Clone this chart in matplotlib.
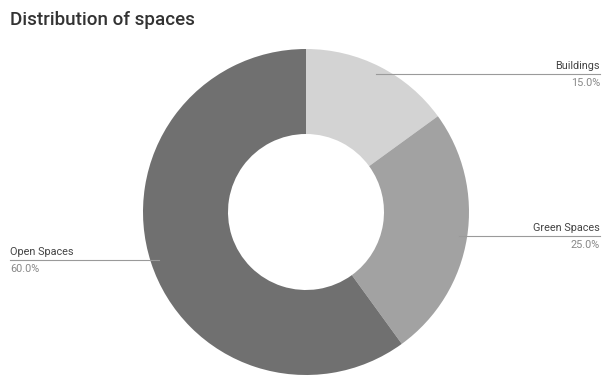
import numpy as np
import matplotlib.pyplot as plt

# Share of each kind of space
categories = ["Buildings", "Green Spaces", "Open Spaces"]
shares = [15.0, 25.0, 60.0]
colors = ["#d3d3d3", "#a2a2a2", "#707070"]

plt.rcParams["font.family"] = ["Roboto", "DejaVu Sans"]

W, H = 602, 379
fig = plt.figure(figsize=(W / 100, H / 100), dpi=100)
ax = fig.add_axes([0, 0, 1, 1])

cx, cy, R = 306, H - 212, 163
wedges, _ = ax.pie(shares, colors=colors, startangle=90, counterclock=False,
                   center=(cx, cy), radius=R, frame=True,
                   wedgeprops=dict(width=R - 78, linewidth=0))
ax.set_xlim(0, W)
ax.set_ylim(0, H)
ax.set_aspect("equal")
ax.axis("off")

fig.text(10 / W, 1 - 20 / H, "Distribution of spaces", fontsize=13.5,
         color="#333333", va="center", ha="left", fontweight="medium")

# leader lines from each wedge to its label at the figure edge
for w, name, val in zip(wedges, categories, shares):
    ang = np.deg2rad((w.theta1 + w.theta2) / 2)
    r = R * 0.95
    x0 = cx + r * np.cos(ang)
    y0 = cy + r * np.sin(ang)
    if x0 > cx:
        xe, ha = W - 2, "right"
    else:
        xe, ha = 10, "left"
    ax.plot([x0, xe], [y0, y0], color="#9a9a9a", lw=0.8)
    ax.text(xe, y0 + 3, name, ha=ha, va="bottom", fontsize=7.8,
            color="#444444")
    ax.text(xe, y0 - 4, f"{val:.1f}%", ha=ha, va="top", fontsize=7.8,
            color="#888888")

fig.savefig("out.png", dpi=100, facecolor="white")
